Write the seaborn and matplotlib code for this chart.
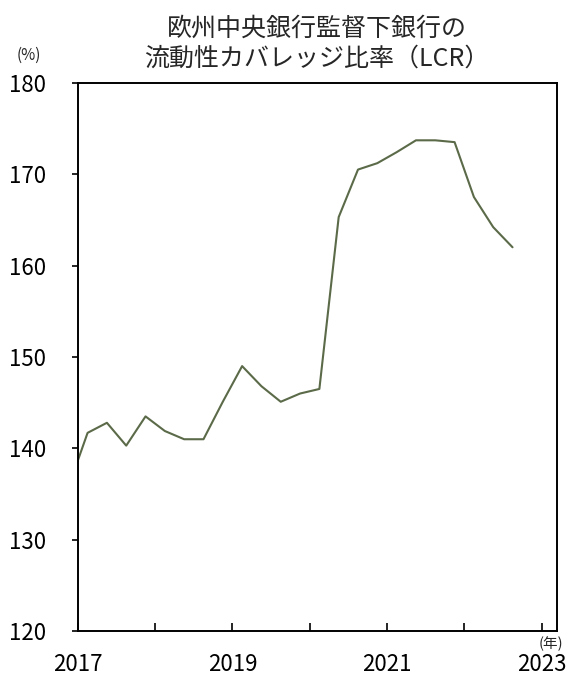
import matplotlib
matplotlib.use("Agg")
import matplotlib.pyplot as plt
import pandas as pd
import seaborn as sns

# quarterly LCR of banks under ECB supervision (%)
quarters = ["2016Q4",
            "2017Q1", "2017Q2", "2017Q3", "2017Q4",
            "2018Q1", "2018Q2", "2018Q3", "2018Q4",
            "2019Q1", "2019Q2", "2019Q3", "2019Q4",
            "2020Q1", "2020Q2", "2020Q3", "2020Q4",
            "2021Q1", "2021Q2", "2021Q3", "2021Q4",
            "2022Q1", "2022Q2", "2022Q3"]
lcr = [135.7,
       141.7, 142.8, 140.3, 143.5,
       141.9, 141.0, 141.0, 145.1,
       149.0, 146.8, 145.1, 146.0,
       146.5, 165.3, 170.5, 171.2,
       172.4, 173.7, 173.7, 173.5,
       167.5, 164.2, 162.0]
year_ticks = [2017, 2018, 2019, 2020, 2021, 2022, 2023]
year_labels = ["2017", "", "2019", "", "2021", "", "2023"]

title = "欧州中央銀行監督下銀行の\n流動性カバレッジ比率（LCR）"

sns.set_theme(style="white")
plt.rcParams["font.family"] = ["Noto Sans CJK JP", "DejaVu Sans"]

df = pd.DataFrame({"quarter": quarters, "lcr": lcr})
# place each quarter at its midpoint in decimal years
df["x"] = [int(q[:4]) + (int(q[-1]) - 0.5) / 4 for q in df["quarter"]]

fig = plt.figure(figsize=(5.73, 6.78), dpi=100)
ax = fig.add_axes([0.136, 0.069, 0.836, 0.809])

sns.lineplot(data=df, x="x", y="lcr", ax=ax, color="#5b6a48", linewidth=1.5)

ax.set_xlim(2017, 2023.2)
ax.set_ylim(120, 180)
ax.set_yticks([120, 130, 140, 150, 160, 170, 180])
ax.set_xticks(year_ticks)
ax.set_xticklabels(year_labels)
ax.set_xlabel("")
ax.set_ylabel("")

for s in ax.spines.values():
    s.set_visible(True)
    s.set_color("black")
    s.set_linewidth(1.4)

ax.tick_params(axis="x", direction="in", length=6, width=1.2, pad=16,
               labelsize=16, colors="black", bottom=True)
ax.tick_params(axis="y", direction="out", length=4, width=1.2, pad=19,
               labelsize=16, colors="black", left=True)

fig.text(0.553, 0.894, title, ha="center", va="bottom", fontsize=18,
         linespacing=1.2)
fig.text(0.051, 0.918, "(%)", ha="center", va="center", fontsize=11)
fig.text(0.962, 0.051, "(年)", ha="center", va="center", fontsize=10.5)

fig.savefig("out.png", dpi=100)
